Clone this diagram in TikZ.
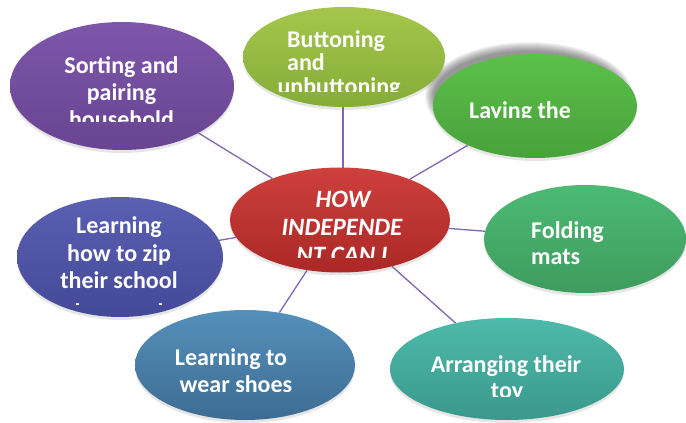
\documentclass[tikz,border=0pt]{standalone}
\usepackage{fontspec}
\setmainfont{Carlito}
\usetikzlibrary{shapes.geometric,shadows}
\pgfdeclarelayer{bg}
\pgfsetlayers{bg,main}
\definecolor{linkc}{HTML}{8166B0}
\tikzset{
  blob/.style={ellipse, draw=none, inner sep=0pt,
    drop shadow={opacity=0.2, shadow xshift=0pt, shadow yshift=-3pt}},
  link/.style={draw=linkc, line width=1.3pt},
  lbl/.style={text=white, inner sep=0pt, anchor=base,
    font=\bfseries\fontsize{24}{27}\selectfont},
  lblw/.style={lbl, anchor=base west},
  lblc/.style={lbl, font=\bfseries\itshape\fontsize{25}{28}\selectfont},
}
\begin{document}
\begin{tikzpicture}[x=1pt,y=-1pt]
\useasboundingbox (0,0) rectangle (686,423);
% soft shadow of "Laying the"
\foreach \g in {0,1,...,9}
  \fill[black,opacity=0.05] (529,96) ellipse ({95+\g} and {45+\g});
% ellipses
\node[blob, minimum width=224, minimum height=128, top color={rgb,255:red,126;green,86;blue,170}, bottom color={rgb,255:red,104;green,68;blue,146}] (sort) at (122,86) {};
\node[blob, minimum width=202, minimum height=100, top color={rgb,255:red,164;green,198;blue,76}, bottom color={rgb,255:red,134;green,172;blue,56}] (btn) at (344,57) {};
\node[blob, minimum width=204, minimum height=104, top color={rgb,255:red,92;green,192;blue,74}, bottom color={rgb,255:red,72;green,162;blue,58}] (lay) at (535,106) {};
\node[blob, minimum width=202, minimum height=108, top color={rgb,255:red,76;green,186;blue,116}, bottom color={rgb,255:red,62;green,156;blue,94}] (fold) at (585,239) {};
\node[blob, minimum width=234, minimum height=102, top color={rgb,255:red,78;green,186;blue,170}, bottom color={rgb,255:red,58;green,152;blue,140}] (arr) at (507,369) {};
\node[blob, minimum width=220, minimum height=110, top color={rgb,255:red,84;green,144;blue,186}, bottom color={rgb,255:red,62;green,108;blue,146}] (shoe) at (245,365) {};
\node[blob, minimum width=206, minimum height=120, top color={rgb,255:red,90;green,96;blue,178}, bottom color={rgb,255:red,68;green,72;blue,152}] (zip) at (120,257) {};
\node[blob, minimum width=220, minimum height=105, top color={rgb,255:red,206;green,64;blue,60}, bottom color={rgb,255:red,170;green,40;blue,38}] (hub) at (340,220) {};
% connectors
\begin{pgfonlayer}{bg}
\draw[link] (hub) -- (sort);
\draw[link] (hub.center) ++(3,0) coordinate (hubtop) -- (btn.center -| hubtop);
\draw[link] (hub) -- (lay);
\draw[link] (hub) -- (fold);
\draw[link] (hub) -- (arr);
\draw[link] (hub) -- (shoe);
\draw[link] (hub) -- (zip);
\end{pgfonlayer}
% texts
\begin{scope}
\clip (10,20) rectangle (234,121);
\node[lbl] (sortA) at (121.5,73) {Sorting and};
\node[lbl] (sortB) at (121.5,100) {pairing};
\node[lbl] (sortC) at (121.5,127) {household};
\end{scope}
\begin{scope}
\clip (243,5) rectangle (445,91);
\node[lblw] (btnA) at (287,47) {Buttoning};
\node[lblw] (btnB) at (287,70) {and};
\node[lbl] (btnC) at (339,94) {unbuttoning};
\end{scope}
\begin{scope}
\clip (433,50) rectangle (637,117);
\node[lbl] (layA) at (520,118) {Laying the};
\end{scope}
\node[lblw] (foldA) at (531,238) {Folding};
\node[lblw] (foldB) at (531,264) {mats};
\begin{scope}
\clip (390,315) rectangle (624,396);
\node[lbl] (arrA) at (506,372) {Arranging their};
\node[lbl] (arrB) at (507,398) {toy};
\end{scope}
\begin{scope}
\clip (135,308) rectangle (355,391);
\node[lbl] (shoeA) at (231,365) {Learning to};
\node[lbl] (shoeB) at (236,392) {wear shoes};
\end{scope}
\begin{scope}
\clip (17,195) rectangle (223,304);
\node[lbl] (zipA) at (119,233) {Learning};
\node[lbl] (zipB) at (119,261) {how to zip};
\node[lbl] (zipC) at (119,288) {their school};
\node[lbl] (zipD) at (119,320) {bags and};
\end{scope}
\begin{scope}
\clip (230,166) rectangle (450,257);
\node[lblc] (hubA) at (343,207) {HOW};
\node[lblc] (hubB) at (342,235) {INDEPENDE};
\node[lblc] (hubC) at (342,263) {NT CAN I};
\end{scope}
\end{tikzpicture}
\end{document}
